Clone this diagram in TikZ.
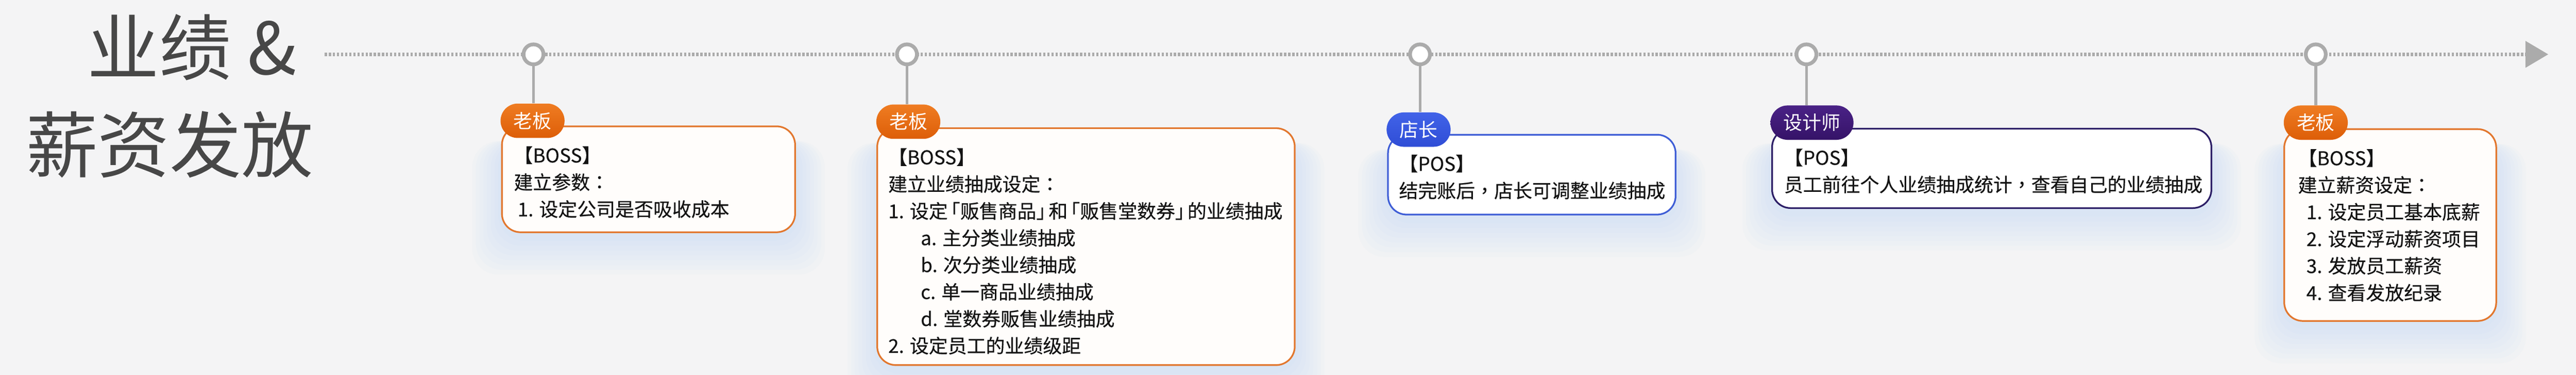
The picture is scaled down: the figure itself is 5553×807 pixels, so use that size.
\documentclass[tikz,border=0pt]{standalone}
\usepackage{fontspec}
\setmainfont{Noto Sans CJK SC}
\newfontfamily\bodyfam{Noto Sans CJK SC}[FakeBold=0.4]
\newfontfamily\tcfam{Noto Sans CJK TC}[FakeBold=0.4]
\usetikzlibrary{calc}
\definecolor{bgc}{HTML}{F4F4F5}
\definecolor{tlgray}{HTML}{ABABAB}
\definecolor{titlec}{HTML}{474747}
\definecolor{textc}{HTML}{141414}
\definecolor{orgtop}{HTML}{EF7C22}
\definecolor{orgbot}{HTML}{DD5E08}
\definecolor{orgline}{HTML}{E2772E}
\definecolor{blutop}{HTML}{4163E8}
\definecolor{blubot}{HTML}{2F4DD6}
\definecolor{bluline}{HTML}{3F5ED6}
\definecolor{purtop}{HTML}{4A2286}
\definecolor{purbot}{HTML}{351368}
\definecolor{purline}{HTML}{2C1E66}
\definecolor{glowc}{HTML}{B9D5F4}
\definecolor{warmw}{HTML}{FFFDFB}
\pgfdeclarelayer{back}
\pgfdeclarelayer{glow}
\pgfsetlayers{back,glow,main}
\newcommand{\bodyfont}{\bodyfam\fontsize{10.25}{14.5}\selectfont}
\newcommand{\tagfont}{\fontsize{10.25}{14.5}\selectfont}
\newcommand{\tcp}[1]{{\tcfam #1}}
\begin{document}
\begin{tikzpicture}[x=0.25pt,y=-0.25pt,
  tl/.style={line width=1.75pt, draw=tlgray, dash pattern=on 1.2pt off 1pt},
  ring/.style={circle, draw=tlgray, line width=2pt, fill=white, minimum size=10.75pt, inner sep=0pt},
  stem/.style={draw=tlgray, line width=1.5pt},
  tag/.style={rounded corners=9.25pt, minimum height=18.5pt, inner xsep=7pt, inner ysep=0pt, text=white, font=\tagfont},
  orgtag/.style={tag, top color=orgtop, bottom color=orgbot},
  blutag/.style={tag, top color=blutop, bottom color=blubot},
  purtag/.style={tag, top color=purtop, bottom color=purbot},
  box/.style={draw=#1, line width=0.9pt, rounded corners=10pt, anchor=north west, inner sep=0pt, outer sep=0pt},
  txt/.style={anchor=north west, inner sep=0pt, align=left, font=\bodyfont, text=textc},
  ttl/.style={anchor=base west, inner sep=0pt, text=titlec, font=\fontsize{38.75}{46}\selectfont}
]
\useasboundingbox (0,0) rectangle (5553,807);
\begin{pgfonlayer}{back}
\fill[bgc] (0,0) rectangle (5553,807);
\end{pgfonlayer}

% title
\node[ttl] (title1) at (188,160) {业绩 \&};
\node[ttl] (title2) at (55,370) {薪资发放};

% timeline
\coordinate (tl0) at (700,117);
\coordinate (tl1) at (5444,117);
\draw[tl] (tl0) -- (tl1);
\fill[tlgray] (tl1) -- ++(0,-29) -- ++(49,29) -- ++(-49,29) -- cycle;

% boxes
\node[box=orgline, fill=warmw, minimum width=158pt, minimum height=57pt] (b1) at (1082,272) {};
\node[box=orgline, fill=warmw, minimum width=225pt, minimum height=127.5pt] (b2) at (1891,276) {};
\node[box=bluline, fill=white, minimum width=155pt, minimum height=43pt] (b3) at (2992,290) {};
\node[box=purline, fill=white, minimum width=236.75pt, minimum height=42.75pt] (b4) at (3820,277) {};
\node[box=orgline, fill=warmw, minimum width=114.25pt, minimum height=103.25pt] (b5) at (4924,278) {};

% glow
\begin{pgfonlayer}{glow}
\foreach \b in {b1,b2,b3,b4,b5}{
  \foreach \i in {1,...,8}{
    \fill[glowc, opacity=0.06, rounded corners=14pt] ([xshift=-\i*2pt, yshift=-8pt]\b.north west) rectangle ([xshift=\i*2pt, yshift=-\i*2.6pt-2pt]\b.south east);
  }
}
\end{pgfonlayer}

% circles
\node[ring] (c1) at (1150,117) {};
\node[ring] (c2) at (1955,117) {};
\node[ring] (c3) at (3061,117) {};
\node[ring] (c4) at (3894,117) {};
\node[ring] (c5) at (4992,117) {};

% tags
\node[orgtag] (g1) at (1148,260) {老板};
\node[orgtag] (g2) at (1958,262) {老板};
\node[blutag] (g3) at (3058,279) {店长};
\node[purtag] (g4) at (3906,264) {设计师};
\node[orgtag] (g5) at (4992,264) {老板};

% stems
\begin{pgfonlayer}{glow}
\draw[stem] (c1) -- (c1 |- g1.north);
\draw[stem] (c2) -- (c2 |- g2.north);
\draw[stem] (c3) -- (c3 |- g3.north);
\draw[stem] (c4) -- (c4 |- g4.north);
\draw[stem] (c5) -- (c5 |- g5.north);
\end{pgfonlayer}

% texts
\node[txt] (t1) at (1107,305) {\rule{0pt}{11pt}【BOSS】\\建立参数\tcp{：}\\\hspace*{2pt}1. 设定公司是否吸收成本};
\node[txt] (t2) at (1914,309) {\rule{0pt}{11pt}【BOSS】\\建立业绩抽成设定\tcp{：}\\1. 设定\kern-.35em「贩售商品」\kern-.35em和\kern-.35em「贩售堂数券」\kern-.35em的业绩抽成\\\hspace*{17.5pt}a. 主分类业绩抽成\\\hspace*{17.5pt}b. 次分类业绩抽成\\\hspace*{17.5pt}c. 单一商品业绩抽成\\\hspace*{17.5pt}d. 堂数券贩售业绩抽成\\2. 设定员工的业绩级距};
\node[txt] (t3) at (3015,323) {\rule{0pt}{11pt}【POS】\\结完账后\tcp{，}店长可调整业绩抽成};
\node[txt] (t4) at (3845,310) {\rule{0pt}{11pt}【POS】\\员工前往个人业绩抽成统计\tcp{，}查看自己的业绩抽成};
\node[txt] (t5) at (4953,311) {\rule{0pt}{11pt}【BOSS】\\建立薪资设定\tcp{：}\\\hspace*{4.5pt}1. 设定员工基本底薪\\\hspace*{4.5pt}2. 设定浮动薪资项目\\\hspace*{4.5pt}3. 发放员工薪资\\\hspace*{4.5pt}4. 查看发放纪录};
\end{tikzpicture}
\end{document}
